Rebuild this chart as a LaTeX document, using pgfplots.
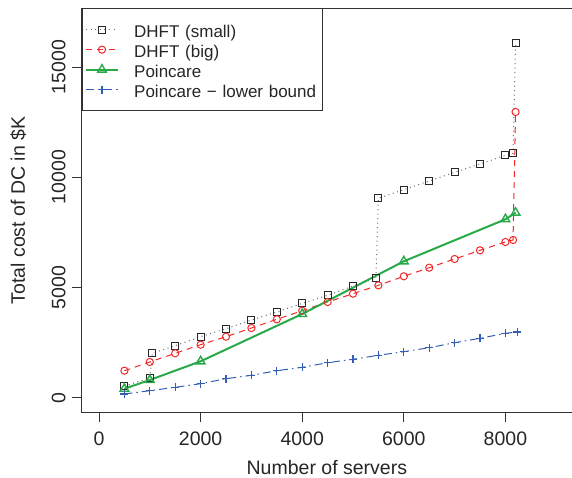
\documentclass[border=0pt]{standalone}
\usepackage{fontspec}
\setmainfont{Liberation Sans}
\usepackage{pgfplots}
\pgfplotsset{compat=1.18}
\definecolor{axgray}{RGB}{50,50,50}
\definecolor{dotgray}{RGB}{110,110,110}
\definecolor{sqblack}{RGB}{40,40,40}
\definecolor{rred}{RGB}{240,40,40}
\definecolor{rgreen}{RGB}{40,170,75}
\definecolor{rblue}{RGB}{50,95,180}
\begin{document}
\begin{tikzpicture}
\begin{axis}[
  scale only axis, width=490.3pt, height=404.4pt,
  xmin=-340.6, xmax=9311, ymin=-680, ymax=17664,
  axis x line*=box, axis y line*=left,
  tick pos=left, tick align=outside, major tick length=9.5pt,
  axis line style={axgray, line width=1.1pt},
  tick style={axgray, line width=1pt},
  xtick={0,2000,4000,6000,8000}, ytick={0,5000,10000,15000},
  scaled ticks=false,
  /pgf/number format/assume math mode=true,
  /pgf/number format/set thousands separator={},
  font=\fontsize{19.5}{23}\selectfont,
  ticklabel style={font=\fontsize{19.5}{23}\selectfont, text=black!85},
  xticklabel style={anchor=north, inner sep=0pt},
  yticklabel style={rotate=90, anchor=south, inner sep=0pt},
  xticklabel shift=9.5pt, yticklabel shift=6.5pt,
  every axis x label/.style={at={(rel axis cs:0.5,0)}, yshift=-62pt, anchor=base, text=black!85},
  every axis y label/.style={at={(rel axis cs:0,0.5)}, xshift=-56.7pt, rotate=90, anchor=base, text=black!85},
  xlabel={Number of servers},
  ylabel={Total cost of DC in \$K},
  legend cell align=left,
  legend image code/.code={\draw[mark repeat=2,mark phase=2] plot coordinates {(0pt,0pt) (15.5pt,0pt) (31pt,0pt)};},
  legend style={at={(rel axis cs:0,1)}, anchor=north west, draw=axgray, line width=1pt,
    inner xsep=3.3pt, inner ysep=10.85pt, column sep=15.7pt, row sep=0pt,
    font=\fontsize{17}{20}\selectfont,
    nodes={inner sep=0pt, text height=17.85pt, text depth=2.15pt, text width=185pt, align=left, text=black!85}},
]
\coordinate (O) at (rel axis cs:0,0);
\addplot[dotgray, line width=1pt, dash pattern=on 1pt off 3.5pt, mark=square, mark size=3.5pt, mark options={solid, sqblack, line width=1pt}]
coordinates {(500,531) (1000,890) (1050,2014) (1500,2359) (2000,2767) (2500,3130) (3000,3525) (3500,3888) (4000,4281) (4500,4645) (5000,5067) (5450,5415) (5500,9045) (6000,9436) (6500,9830) (7000,10225) (7500,10601) (8000,10995) (8150,11085) (8200,16076)};
\addlegendentry{DHFT (small)}
\addplot[rred, line width=1pt, dash pattern=on 6pt off 5pt, mark=o, mark size=3.6pt, mark options={solid, line width=1pt}]
coordinates {(500,1225) (1000,1620) (1500,2014) (2000,2404) (2500,2767) (3000,3162) (3500,3556) (4000,3947) (4500,4341) (5000,4718) (5500,5098) (6000,5507) (6500,5897) (7000,6292) (7500,6686) (8000,7063) (8150,7154) (8200,12960)};
\addlegendentry{DHFT (big)}
\addplot[rgreen, line width=2pt, mark=triangle, mark size=5pt, mark options={solid, line width=1.4pt}]
coordinates {(500,408) (1000,803) (2000,1651) (4000,3797) (6000,6187) (8000,8093) (8200,8393)};
\addlegendentry{Poincare}
\addplot[rblue, line width=1pt, dash pattern=on 8pt off 4pt on 1.5pt off 4pt, mark=+, mark size=4pt, mark options={solid, line width=1.2pt}]
coordinates {(500,168) (1000,318) (1500,472) (2000,635) (2500,862) (3000,1016) (3500,1225) (4000,1379) (4500,1588) (5000,1742) (5500,1923) (6000,2087) (6500,2268) (7000,2495) (7500,2694) (8000,2921) (8230,2980)};
\addlegendentry{Poincare − lower bound}
\end{axis}
\pgfresetboundingbox
\path[use as bounding box] (O) ++(-81.7pt,-65.3pt) rectangle ++(572pt,478pt);
\end{tikzpicture}
\end{document}
